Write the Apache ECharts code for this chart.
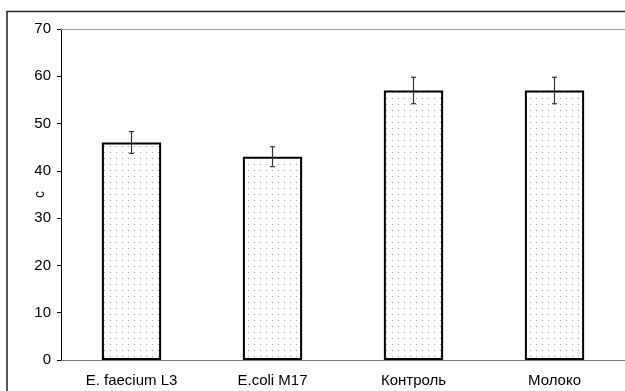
<!DOCTYPE html>
<html>
<head>
<meta charset="utf-8">
<script src="https://cdn.jsdelivr.net/npm/echarts@6/dist/echarts.min.js"></script>
<style>
  html, body { margin: 0; padding: 0; background: #fff; }
  #chart { width: 625px; height: 391px; }
</style>
</head>
<body>
<div id="chart"></div>
<script>
// Group names, mean values and their errors
const categories = ['E. faecium L3', 'E.coli M17', 'Контроль', 'Молоко'];
const means = [46, 43, 57, 57];
const errors = [2.3, 2.1, 2.8, 2.8];
const yTicks = [0, 10, 20, 30, 40, 50, 60, 70];

// Dotted fill for bars
function dotPattern() {
  const c = document.createElement('canvas');
  c.width = 6; c.height = 6;
  const g = c.getContext('2d');
  g.fillStyle = '#fff';
  g.fillRect(0, 0, 6, 6);
  g.fillStyle = '#a0a0a0';
  g.fillRect(2, 2, 1, 1);
  return c;
}

const chart = echarts.init(document.getElementById('chart'), null, { renderer: 'canvas' });

const errorData = categories.map((c, i) => [i, means[i] - errors[i], means[i] + errors[i]]);

chart.setOption({
  animation: false,
  backgroundColor: '#fff',
  textStyle: { fontFamily: 'Liberation Sans, Arial, sans-serif' },
  graphic: [{
    type: 'rect',
    shape: { x: 7, y: 11.5, width: 800, height: 600 },
    style: { fill: 'none', stroke: '#222', lineWidth: 1.5 },
    silent: true,
    z: 100
  }],
  grid: { left: 61, right: -3, top: 29, bottom: 31, containLabel: false },
  xAxis: {
    type: 'category',
    data: categories,
    axisLine: { lineStyle: { color: '#777', width: 1 } },
    axisTick: { show: false },
    axisLabel: { color: '#000', fontSize: 15, margin: 13, interval: 0 },
    splitLine: { show: false }
  },
  yAxis: {
    type: 'value',
    min: yTicks[0],
    max: yTicks[yTicks.length - 1],
    interval: 10,
    name: 'c',
    nameLocation: 'middle',
    nameRotate: 90,
    nameGap: 14,
    nameMoveOverlap: false,
    nameTextStyle: { color: '#000', fontSize: 14 },
    axisLine: { show: true, lineStyle: { color: '#000', width: 1 } },
    axisTick: { show: true, length: 4, lineStyle: { color: '#000' } },
    axisLabel: { color: '#000', fontSize: 15, margin: 10 },
    splitLine: { show: false }
  },
  series: [
    {
      type: 'bar',
      data: means,
      barWidth: '42%',
      itemStyle: {
        color: { image: dotPattern(), repeat: 'repeat' },
        borderColor: '#000',
        borderWidth: 2
      },
      markLine: {
        silent: true,
        symbol: 'none',
        label: { show: false },
        lineStyle: { color: '#a0a0a0', type: 'solid', width: 1 },
        data: [{ yAxis: yTicks[yTicks.length - 1] }]
      }
    },
    {
      type: 'custom',
      data: errorData,
      z: 10,
      renderItem: function (params, api) {
        const x = api.value(0);
        const lo = api.coord([x, api.value(1)]);
        const hi = api.coord([x, api.value(2)]);
        const half = 2.5;
        const style = { stroke: '#333', lineWidth: 1.2 };
        return {
          type: 'group',
          children: [
            { type: 'line', shape: { x1: lo[0], y1: lo[1], x2: hi[0], y2: hi[1] }, style: style },
            { type: 'line', shape: { x1: lo[0] - half, y1: lo[1], x2: lo[0] + half, y2: lo[1] }, style: style },
            { type: 'line', shape: { x1: hi[0] - half, y1: hi[1], x2: hi[0] + half, y2: hi[1] }, style: style }
          ]
        };
      }
    }
  ]
});
</script>
</body>
</html>
